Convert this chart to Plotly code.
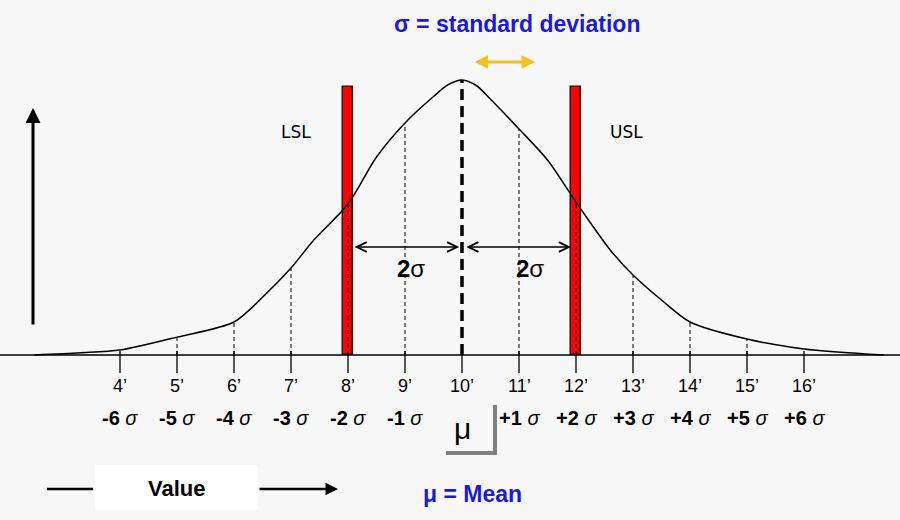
import numpy as np
import plotly.graph_objects as go

# ---------------- data ----------------
tick_values = [4, 5, 6, 7, 8, 9, 10, 11, 12, 13, 14, 15, 16]
tick_labels = ["4’", "5’", "6’", "7’", "8’", "9’", "10’", "11’", "12’", "13’", "14’", "15’", "16’"]
sigma_labels = ["-6", "-5", "-4", "-3", "-2", "-1", "", "+1", "+2", "+3", "+4", "+5", "+6"]

curve_x = [2.5, 3.3, 4, 5, 6, 6.5, 7, 7.4, 8, 8.5, 9, 9.5, 9.75, 10, 10.25, 10.5, 11, 11.5, 12,
           12.6, 13, 13.5, 14, 15, 16, 17.4]
curve_y = [0.0, 0.008, 0.018, 0.065, 0.12, 0.21, 0.316, 0.418, 0.549, 0.72, 0.844, 0.94, 0.982,
           1.0, 0.98, 0.93, 0.822, 0.709, 0.556, 0.382, 0.291, 0.2, 0.12, 0.058, 0.022, 0.0]

spec_limits = [8, 12]
spec_names = ["LSL", "USL"]
spec_heights = [0.975, 0.975]
mean_value = 10
sigma_span = 2  # each arrow spans 2 sigma

# ---------------- figure ----------------
W, H = 900, 520
PX_PER_UNIT_X = 57.0
PX_PER_UNIT_Y = 275.0
BASE_PX = 355.0
MEAN_PX = 462.0
x_min = mean_value - MEAN_PX / PX_PER_UNIT_X
x_max = x_min + W / PX_PER_UNIT_X
y_min = -(H - BASE_PX) / PX_PER_UNIT_Y
y_max = BASE_PX / PX_PER_UNIT_Y


def px(p):
    return p / W


def py(p):
    return 1 - p / H


def dy(p):
    return p / PX_PER_UNIT_Y


BLUE = "#1a1ad8"
SANS = "Liberation Sans, Arial, sans-serif"
NARROW = "Liberation Sans Narrow, Arial Narrow, Liberation Sans, sans-serif"

fig = go.Figure()

fig.add_trace(go.Scatter(
    x=curve_x, y=curve_y, mode="lines",
    line=dict(color="black", width=1.5, shape="spline", smoothing=0.8),
    hoverinfo="skip", showlegend=False))

fig.add_trace(go.Bar(
    x=spec_limits, y=spec_heights, width=0.18,
    marker=dict(color="#ff0000", line=dict(color="#3a0000", width=1.5)),
    hoverinfo="skip", showlegend=False))

shapes = []
annotations = []


def note(**kw):
    kw.setdefault("xanchor", "center")
    kw.setdefault("yanchor", "middle")
    kw.setdefault("showarrow", False)
    annotations.append(kw)


# background decoration boxes
shapes.append(dict(type="rect", xref="paper", yref="paper",
                   x0=px(95), x1=px(258), y0=py(510), y1=py(465),
                   fillcolor="white", line=dict(width=0), layer="below"))

# baseline
shapes.append(dict(type="line", xref="paper", yref="y", x0=0, x1=1, y0=0, y1=0,
                   line=dict(color="black", width=1.6)))

# ticks, dashed verticals, labels
for v, lab, sl in zip(tick_values, tick_labels, sigma_labels):
    shapes.append(dict(type="line", xref="x", yref="y", x0=v, x1=v,
                       y0=dy(4), y1=-dy(18), line=dict(color="black", width=1.3)))
    top = float(np.interp(v, curve_x, curve_y))
    if v != mean_value and 4 < v < 16:
        shapes.append(dict(type="line", xref="x", yref="y", x0=v, x1=v, y0=0, y1=top,
                           line=dict(color="black", width=1, dash="4px,3px")))
    note(x=v, y=-dy(31), xref="x", yref="y", text=lab,
         font=dict(family=SANS, size=18, color="black"))
    if sl:
        note(x=v, y=-dy(63), xref="x", yref="y",
             text="<b>" + sl + "</b> <i>σ</i>",
             font=dict(family=SANS, size=20, color="black"))

# mean line
shapes.append(dict(type="line", xref="x", yref="y", x0=mean_value, x1=mean_value,
                   y0=0, y1=float(np.interp(mean_value, curve_x, curve_y)),
                   line=dict(color="black", width=3.5, dash="11px,6px")))

# spec labels
for v, name, off in zip(spec_limits, spec_names, [-52, 50]):
    note(x=v, y=dy(BASE_PX - 132), xref="x", yref="y", xshift=off, text=name,
         font=dict(family="DejaVu Sans", size=17, color="black"))

# 2 sigma arrows
half_bar = 0.09
arrow_y = dy(BASE_PX - 247)
for a, b in [(spec_limits[0] + half_bar, mean_value - 0.05), (mean_value + 0.05, spec_limits[1] - half_bar)]:
    annotations.append(dict(x=b, y=arrow_y, ax=a, ay=arrow_y, xref="x", yref="y",
                            axref="x", ayref="y", text="", showarrow=True,
                            arrowhead=5, startarrowhead=5, arrowside="end+start",
                            arrowsize=1.3, startarrowsize=1.3, arrowwidth=1.5, arrowcolor="black",
                            standoff=0, startstandoff=0))
for cx in [(spec_limits[0] + mean_value) / 2 + 0.1, (spec_limits[1] + mean_value) / 2 + 0.2]:
    note(x=cx, y=dy(BASE_PX - 268), xref="x", yref="y",
         text="<b>" + str(sigma_span) + "</b>σ",
         font=dict(family=SANS, size=24, color="black"))

# vertical axis arrow
annotations.append(dict(x=px(33), y=py(108), xref="paper", yref="paper", ax=0, ay=218,
                        text="", showarrow=True, arrowhead=2, arrowsize=1, arrowwidth=3,
                        arrowcolor="black", standoff=0))

# gold sigma arrow
annotations.append(dict(x=px(535), y=py(62), xref="paper", yref="paper", ax=-62, ay=0,
                        text="", showarrow=True, arrowhead=2, startarrowhead=2,
                        arrowside="end+start", arrowsize=0.9, startarrowsize=0.9,
                        arrowwidth=3, arrowcolor="#f5c21b", standoff=0, startstandoff=0))

# title
note(x=px(517), y=py(24), xref="paper", yref="paper",
     text="<b>σ = standard deviation</b>",
     font=dict(family=NARROW, size=23, color=BLUE))

# mu box
shapes.append(dict(type="line", xref="paper", yref="paper", x0=px(495), x1=px(495),
                   y0=py(405), y1=py(455), line=dict(color="#808080", width=4)))
shapes.append(dict(type="line", xref="paper", yref="paper", x0=px(446), x1=px(497),
                   y0=py(453), y1=py(453), line=dict(color="#808080", width=4)))
note(x=mean_value, y=-dy(73), xref="x", yref="y", text="μ",
     font=dict(family=SANS, size=30, color="black"))

# value arrow
shapes.append(dict(type="line", xref="paper", yref="paper", x0=px(47), x1=px(93),
                   y0=py(489), y1=py(489), line=dict(color="black", width=2.5)))
annotations.append(dict(x=px(338), y=py(489), xref="paper", yref="paper", ax=-80, ay=0,
                        text="", showarrow=True, arrowhead=2, arrowsize=1, arrowwidth=2.5,
                        arrowcolor="black", standoff=0))
note(x=px(176), y=py(488), xref="paper", yref="paper", text="<b>Value</b>",
     font=dict(family=NARROW, size=22, color="black"))

# mean legend
note(x=px(472), y=py(494), xref="paper", yref="paper", text="<b>μ = Mean</b>",
     font=dict(family=NARROW, size=23, color=BLUE))

fig.update_layout(
    width=W, height=H,
    margin=dict(l=0, r=0, t=0, b=0),
    paper_bgcolor="#f7f7f7", plot_bgcolor="#f7f7f7",
    xaxis=dict(range=[x_min, x_max], visible=False, fixedrange=True),
    yaxis=dict(range=[y_min, y_max], visible=False, fixedrange=True),
    shapes=shapes, annotations=annotations,
    showlegend=False, bargap=0,
)

fig.write_html("out.html")
